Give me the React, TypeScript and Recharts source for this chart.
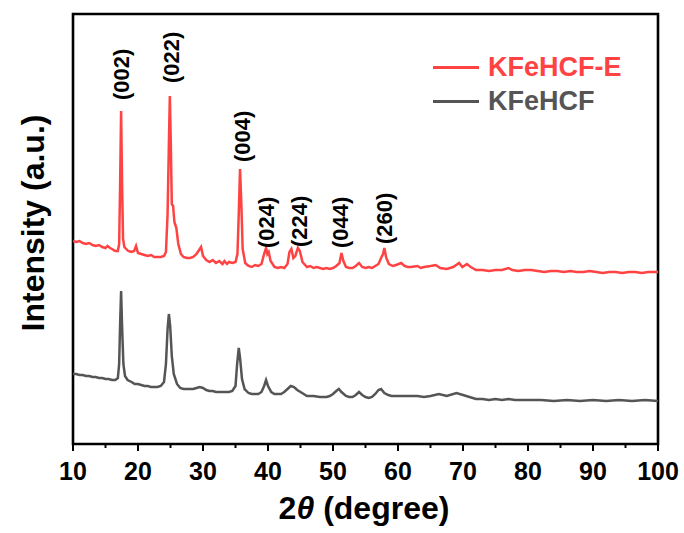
import { LineChart, Line, XAxis, YAxis, ReferenceArea, ReferenceDot, Legend } from "recharts";

const FONT = '"Liberation Sans", Arial, Helvetica, sans-serif';

// KFeHCF-E (red, offset upward)
const redTheta = [
  10.0, 10.5, 11.0, 11.5, 12.0, 12.5, 13.0, 13.5, 14.0, 14.5, 15.0, 15.3, 15.7, 16.0, 16.5, 16.9,
  17.1, 17.25, 17.4, 17.55, 17.7, 17.9, 18.5, 19.0, 19.4, 19.7, 20.0, 20.5, 21.0, 21.5, 22.0, 22.5,
  23.0, 23.5, 24.0, 24.3, 24.55, 24.75, 24.9, 25.05, 25.2, 25.4, 25.6, 25.9, 26.2, 26.6, 27.0, 27.5,
  28.0, 28.5, 29.0, 29.4, 29.7, 30.0, 30.5, 31.0, 31.5, 32.0, 32.5, 33.0, 33.3, 33.7, 34.0, 34.5,
  35.0, 35.3, 35.5, 35.7, 35.9, 36.1, 36.5, 37.0, 37.5, 38.0, 38.5, 39.0, 39.4, 39.7, 39.9, 40.1,
  40.4, 41.0, 41.5, 42.0, 42.5, 43.0, 43.3, 43.6, 43.9, 44.2, 44.6, 44.9, 45.3, 46.0, 46.5, 47.0,
  47.5, 48.0, 48.5, 49.0, 49.5, 50.0, 50.5, 51.0, 51.3, 51.6, 52.0, 52.5, 53.0, 53.5, 54.0, 54.5,
  55.0, 55.5, 56.0, 56.5, 57.0, 57.4, 57.7, 57.9, 58.2, 58.6, 59.2, 59.7, 60.5, 61.0, 61.5, 62.0,
  63.0, 63.5, 64.0, 65.0, 65.8, 66.5, 67.5, 68.5, 69.4, 69.9, 70.6, 71.2, 72.0, 73.0, 74.0, 75.0,
  76.0, 77.0, 77.6, 78.5, 79.5, 80.5, 81.5, 82.5, 83.5, 84.5, 85.5, 86.5, 87.5, 88.5, 89.5, 90.5,
  91.5, 92.5, 93.5, 94.5, 95.5, 96.5, 97.5, 98.5, 99.5, 100.0,
];
const redIntensity = [
  203, 202, 203, 201, 200, 201, 199, 198, 199, 197, 196, 198, 196, 195, 193, 193,
  200, 260, 333, 260, 205, 197, 193, 192, 193, 198, 191, 190, 189, 188, 189, 187,
  187, 187, 188, 192, 230, 300, 348, 300, 240, 238, 222, 216, 200, 190, 187, 186,
  186, 187, 190, 194, 197, 188, 184, 182, 184, 181, 183, 180, 183, 180, 182, 181,
  182, 190, 230, 275, 240, 195, 181, 178, 177, 179, 178, 180, 190, 196, 190, 192,
  183, 177, 176, 177, 176, 180, 192, 195, 186, 188, 196, 193, 182, 177, 178, 176,
  177, 176, 175, 176, 175, 176, 178, 181, 191, 183, 177, 176, 176, 178, 181, 177,
  176, 177, 176, 178, 180, 186, 190, 196, 186, 180, 178, 179, 181, 178, 177, 177,
  178, 176, 177, 178, 179, 176, 175, 177, 181, 177, 180, 177, 174, 174, 173, 174,
  174, 176, 174, 173, 174, 174, 173, 172, 173, 173, 172, 173, 172, 172, 173, 172,
  171, 172, 172, 171, 172, 172, 171, 172, 172, 172,
];

// KFeHCF (gray)
const grayTheta = [
  10.0, 10.5, 11.0, 11.5, 12.0, 12.5, 13.0, 13.5, 14.0, 14.5, 15.0, 15.5, 16.0, 16.5, 16.9, 17.1,
  17.25, 17.4, 17.55, 17.75, 18.0, 18.4, 19.0, 19.5, 20.0, 20.5, 21.0, 21.5, 22.0, 22.5, 23.0, 23.5,
  24.0, 24.3, 24.55, 24.75, 24.95, 25.2, 25.5, 26.0, 26.5, 27.0, 27.5, 28.0, 28.5, 29.0, 29.5, 30.0,
  30.5, 31.0, 31.5, 32.0, 32.5, 33.0, 33.5, 34.0, 34.5, 35.0, 35.25, 35.5, 35.7, 36.0, 36.4, 37.0,
  37.5, 38.0, 38.5, 39.0, 39.4, 39.7, 40.0, 40.5, 41.0, 41.5, 42.0, 42.5, 43.0, 43.5, 44.0, 44.5,
  45.0, 45.5, 46.0, 47.0, 48.0, 49.0, 49.5, 50.0, 50.5, 50.9, 51.3, 52.0, 52.5, 53.0, 53.5, 54.0,
  54.5, 55.0, 55.5, 56.0, 56.5, 57.0, 57.4, 57.9, 58.5, 59.0, 60.0, 61.0, 62.0, 63.0, 64.0, 65.0,
  66.3, 67.5, 69.0, 70.0, 71.0, 72.0, 73.0, 74.0, 75.0, 76.0, 77.0, 78.0, 79.0, 80.0, 82.0, 84.0,
  86.0, 88.0, 90.0, 92.0, 94.0, 96.0, 98.0, 100.0,
];
const grayIntensity = [
  70, 70, 69, 69, 68, 68, 67, 67, 66, 66, 65, 65, 64, 64, 66, 80,
  120, 153, 118, 80, 68, 64, 62, 60, 60, 59, 58, 58, 57, 57, 57, 58,
  62, 80, 115, 130, 118, 88, 70, 60, 56, 55, 55, 55, 55, 56, 57, 56,
  54, 53, 53, 52, 52, 52, 52, 52, 53, 58, 80, 96, 86, 65, 55, 51,
  50, 50, 50, 52, 58, 64, 58, 52, 50, 50, 50, 52, 55, 58, 57, 54,
  52, 50, 48, 48, 47, 47, 48, 50, 53, 55, 52, 48, 47, 47, 49, 52,
  49, 47, 46, 47, 50, 54, 55, 51, 49, 48, 48, 48, 48, 48, 47, 48,
  50, 48, 51, 49, 47, 45, 45, 44, 45, 44, 45, 44, 44, 44, 44, 43,
  44, 43, 44, 43, 44, 43, 44, 43,
];

const xTicks = [10, 15, 20, 25, 30, 35, 40, 45, 50, 55, 60, 65, 70, 75, 80, 85, 90, 95, 100];

const seriesNames = ["KFeHCF-E", "KFeHCF"];
const seriesColors = ["#ff4242", "#555555"];

const peakNames = ["(002)", "(022)", "(004)", "(024)", "(224)", "(044)", "(260)"];
const peakTheta = [17.4, 25.2, 36.0, 39.8, 44.8, 51.2, 57.9];
const peakLabelBase = [344, 361, 282, 196, 197, 196, 200];

const redData = redTheta.map((x, i) => ({ x, y: redIntensity[i] }));
const grayData = grayTheta.map((x, i) => ({ x, y: grayIntensity[i] }));

function XTick({ x, y, payload }: any) {
  const major = payload.value % 10 === 0;
  return (
    <g>
      <line x1={x} x2={x} y1={y} y2={y + (major ? 7 : 4)} stroke="#000" strokeWidth={2} />
      {major && (
        <text x={x} y={y + 36} textAnchor="middle" fontFamily={FONT} fontWeight="bold" fontSize={25} fill="#000">
          {payload.value}
        </text>
      )}
    </g>
  );
}

function PeakLabel({ cx, cy, text }: any) {
  return (
    <text
      x={cx}
      y={cy}
      transform={`rotate(-90 ${cx} ${cy})`}
      textAnchor="start"
      dominantBaseline="central"
      fontFamily={FONT}
      fontWeight="bold"
      fontSize={22}
      fill="#000"
    >
      {text}
    </text>
  );
}

function LegendBox() {
  return (
    <div style={{ fontFamily: FONT, fontWeight: "bold", fontSize: 27 }}>
      {seriesNames.map((name, i) => (
        <div key={name} style={{ display: "flex", alignItems: "center", height: 34 }}>
          <div style={{ width: 46, height: 3, background: seriesColors[i], marginRight: 9 }} />
          <span style={{ color: seriesColors[i], lineHeight: "34px" }}>{name}</span>
        </div>
      ))}
    </div>
  );
}

export default function App() {
  return (
    <div style={{ position: "fixed", left: 0, top: 0, width: 684, height: 533, background: "#fff" }}>
      <LineChart width={684} height={533} margin={{ top: 14, right: 26, left: 73, bottom: 59 }}>
        <XAxis
          dataKey="x"
          type="number"
          domain={[10, 100]}
          ticks={xTicks}
          interval={0}
          allowDataOverflow
          axisLine={false}
          tickLine={false}
          tickSize={0}
          tickMargin={0}
          height={30}
          tick={<XTick />}
        />
        <YAxis type="number" domain={[0, 430]} hide allowDataOverflow />
        <Legend
          layout="horizontal"
          verticalAlign="middle"
          align="center"
          wrapperStyle={{ position: "absolute", top: 50, left: 433, width: 230 }}
          content={() => <LegendBox />}
        />
        <Line
          data={redData}
          dataKey="y"
          name={seriesNames[0]}
          type="linear"
          stroke={seriesColors[0]}
          strokeWidth={2.5}
          dot={false}
          isAnimationActive={false}
        />
        <Line
          data={grayData}
          dataKey="y"
          name={seriesNames[1]}
          type="linear"
          stroke={seriesColors[1]}
          strokeWidth={2.5}
          dot={false}
          isAnimationActive={false}
        />
        {peakNames.map((name, i) => (
          <ReferenceDot
            key={name}
            x={peakTheta[i]}
            y={peakLabelBase[i]}
            r={0}
            ifOverflow="visible"
            shape={(p: any) => <PeakLabel cx={p.cx} cy={p.cy} text={name} />}
          />
        ))}
        <ReferenceArea x1={10} x2={100} y1={0} y2={430} fill="none" stroke="#000" strokeWidth={2.6} ifOverflow="visible" />
      </LineChart>
      <svg width={684} height={533} style={{ position: "absolute", left: 0, top: 0, pointerEvents: "none" }}>
        <text x={364} y={519} textAnchor="middle" fontFamily={FONT} fontWeight="bold" fontSize={32} fill="#000">
          2<tspan fontStyle="italic">θ</tspan> (degree)
        </text>
        <text
          x={-223}
          y={44}
          transform="rotate(-90)"
          textAnchor="middle"
          fontFamily={FONT}
          fontWeight="bold"
          fontSize={32}
          fill="#000"
        >
          Intensity (a.u.)
        </text>
      </svg>
    </div>
  );
}
